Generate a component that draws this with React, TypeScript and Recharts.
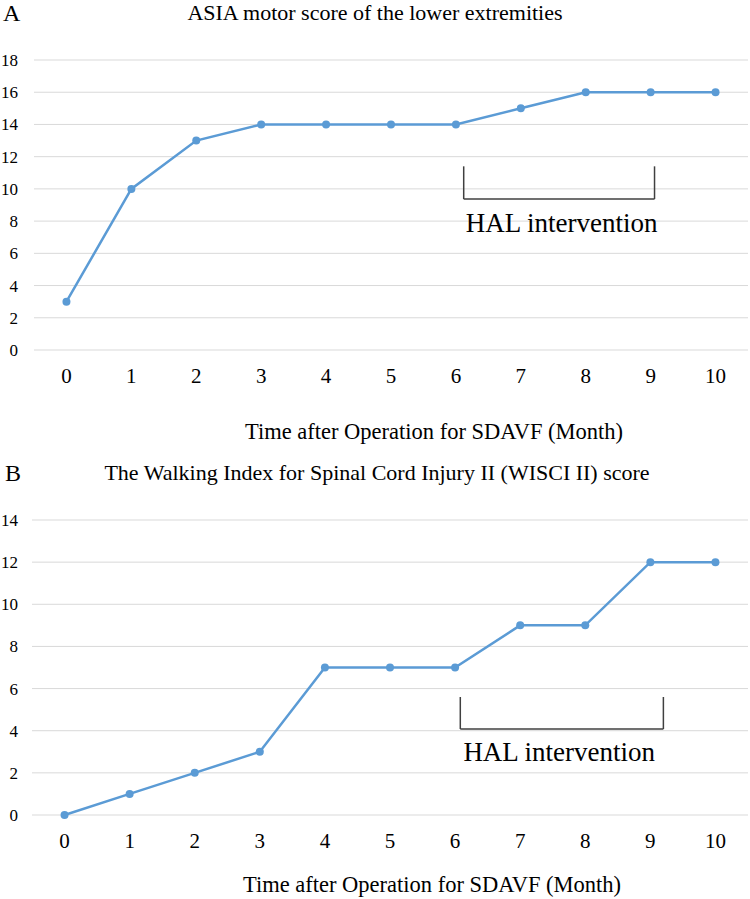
import React from 'react';
import {
  LineChart,
  Line,
  XAxis,
  YAxis,
  CartesianGrid,
  ReferenceLine,
  ReferenceDot,
} from 'recharts';

const months = [0, 1, 2, 3, 4, 5, 6, 7, 8, 9, 10];
const asiaScores = [3, 10, 13, 14, 14, 14, 14, 15, 16, 16, 16];
const wisciScores = [0, 1, 2, 3, 7, 7, 7, 9, 9, 12, 12];
const asiaTicks = [0, 2, 4, 6, 8, 10, 12, 14, 16, 18];
const wisciTicks = [0, 2, 4, 6, 8, 10, 12, 14];

const asiaData = months.map((m, i) => ({ month: m, score: asiaScores[i] }));
const wisciData = months.map((m, i) => ({ month: m, score: wisciScores[i] }));

const FONT = 'Liberation Serif';
const LINE_COLOR = '#5b9bd5';
const BRACKET_COLOR = '#404040';

// HAL bracket, in data units: left/right, top/bottom, plus label centre
const asiaBracket = { x1: 6.12, x2: 9.06, top: 11.4, bottom: 9.37, labelX: 7.63, labelY: 7.94 };
const wisciBracket = { x1: 6.08, x2: 9.2, top: 5.6, bottom: 4.08, labelX: 7.6, labelY: 3.0 };

const Text: React.FC<{ x: number; y: number; size: number; center?: boolean; children: React.ReactNode }> = ({
  x,
  y,
  size,
  center,
  children,
}) => (
  <div
    style={{
      position: 'absolute',
      left: center ? x - 400 : x,
      width: center ? 800 : undefined,
      textAlign: center ? 'center' : 'left',
      top: y - size / 2,
      fontSize: size,
      lineHeight: `${size}px`,
      fontFamily: FONT,
      color: '#000',
      whiteSpace: 'nowrap',
    }}
  >
    {children}
  </div>
);

const ScoreChart: React.FC<{
  data: { month: number; score: number }[];
  ticks: number[];
  height: number;
  top: number;
  yWidth: number;
  xHeight: number;
  bracket: typeof asiaBracket;
}> = ({ data, ticks, height, top, yWidth, xHeight, bracket }) => (
  <LineChart
    width={750}
    height={height}
    data={data}
    margin={{ top, right: 2, left: 0, bottom: 0 }}
  >
    <CartesianGrid vertical={false} stroke="#d9d9d9" strokeWidth={1} />
    <XAxis
      dataKey="month"
      type="number"
      domain={[-0.5, 10.5]}
      ticks={months}
      interval={0}
      height={xHeight}
      axisLine={false}
      tickLine={false}
      tickMargin={12}
      tick={{ fontSize: 21, fill: '#000', fontFamily: FONT }}
    />
    <YAxis
      domain={[ticks[0], ticks[ticks.length - 1]]}
      ticks={ticks}
      interval={0}
      width={yWidth}
      axisLine={false}
      tickLine={false}
      tickSize={0}
      tickMargin={yWidth - 18}
      tick={{ fontSize: 17, fill: '#000', fontFamily: FONT }}
    />
    <ReferenceLine
      segment={[
        { x: bracket.x1, y: bracket.top },
        { x: bracket.x1, y: bracket.bottom },
      ]}
      stroke={BRACKET_COLOR}
      strokeWidth={1.5}
    />
    <ReferenceLine
      segment={[
        { x: bracket.x1, y: bracket.bottom },
        { x: bracket.x2, y: bracket.bottom },
      ]}
      stroke={BRACKET_COLOR}
      strokeWidth={1.5}
    />
    <ReferenceLine
      segment={[
        { x: bracket.x2, y: bracket.top },
        { x: bracket.x2, y: bracket.bottom },
      ]}
      stroke={BRACKET_COLOR}
      strokeWidth={1.5}
    />
    <ReferenceDot
      x={bracket.labelX}
      y={bracket.labelY}
      r={0}
      fill="none"
      stroke="none"
      label={{ value: 'HAL intervention', position: 'center', fontSize: 27, fill: '#000', fontFamily: FONT }}
    />
    <Line
      type="linear"
      dataKey="score"
      stroke={LINE_COLOR}
      strokeWidth={2.5}
      dot={{ r: 4, fill: LINE_COLOR, stroke: LINE_COLOR, strokeWidth: 0 }}
      activeDot={false}
      isAnimationActive={false}
    />
  </LineChart>
);

export default function App() {
  return (
    <div
      style={{
        position: 'absolute',
        left: 0,
        top: 0,
        width: 750,
        height: 899,
        background: '#fff',
        fontFamily: FONT,
      }}
    >
      <div style={{ position: 'absolute', left: 0, top: 0 }}>
        <ScoreChart
          data={asiaData}
          ticks={asiaTicks}
          height={450}
          top={60}
          yWidth={34}
          xHeight={100}
          bracket={asiaBracket}
        />
      </div>
      <div style={{ position: 'absolute', left: 0, top: 450 }}>
        <ScoreChart
          data={wisciData}
          ticks={wisciTicks}
          height={449}
          top={70}
          yWidth={32}
          xHeight={84}
          bracket={wisciBracket}
        />
      </div>
      <Text x={3} y={13} size={24}>A</Text>
      <Text x={375} y={13} size={22} center>ASIA motor score of the lower extremities</Text>
      <Text x={434} y={432} size={22.5} center>Time after Operation for SDAVF (Month)</Text>
      <Text x={5} y={473} size={24}>B</Text>
      <Text x={377} y={473} size={22} center>The Walking Index for Spinal Cord Injury II (WISCI II) score</Text>
      <Text x={432} y={885} size={22.5} center>Time after Operation for SDAVF (Month)</Text>
    </div>
  );
}
